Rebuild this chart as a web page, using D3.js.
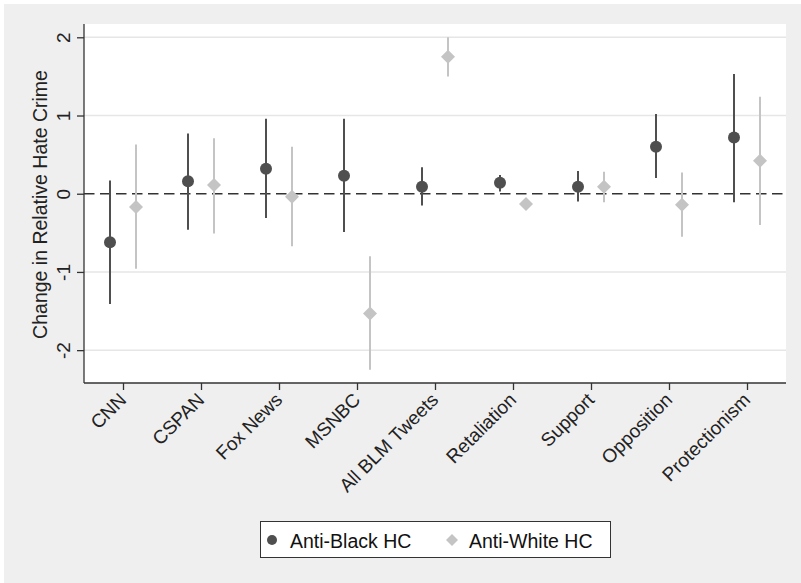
<!DOCTYPE html>
<html><head><meta charset="utf-8">
<script src="https://cdn.jsdelivr.net/npm/d3@7"></script>
<style>
html,body{margin:0;padding:0;background:#fff;}
svg{display:block;font-family:"Liberation Sans",Arial,sans-serif;}
</style></head>
<body>
<svg id="chart" width="801" height="583"></svg>
<script>
const categories = ["CNN","CSPAN","Fox News","MSNBC","All BLM Tweets","Retaliation","Support","Opposition","Protectionism"];
const blackEst = [-0.62, 0.16, 0.32, 0.23, 0.09, 0.14, 0.09, 0.60, 0.72];
const blackLo  = [-1.41,-0.46,-0.31,-0.49,-0.15, 0.03,-0.10, 0.20,-0.11];
const blackHi  = [ 0.17, 0.77, 0.96, 0.96, 0.34, 0.24, 0.29, 1.02, 1.53];
const whiteEst = [-0.17, 0.11,-0.04,-1.53, 1.75,-0.13, 0.09,-0.14, 0.42];
const whiteLo  = [-0.96,-0.51,-0.67,-2.25, 1.50,-0.20,-0.11,-0.55,-0.40];
const whiteHi  = [ 0.63, 0.71, 0.60,-0.80, 2.00,-0.06, 0.28, 0.27, 1.24];
const yTicks = [-2,-1,0,1,2];
const yTickLabels = ["-2","-1","0","1","2"];
const seriesNames = ["Anti-Black HC","Anti-White HC"];

const svg = d3.select("#chart");
const W = 801, H = 583;
const plot = {left:84, right:786, top:24, bottom:383};
const darkCol = "#4f4f4f", lightCol = "#c4c4c4";

svg.append("rect").attr("x",4).attr("y",4).attr("width",W-4).attr("height",H-4).attr("fill","#efefef");
svg.append("rect").attr("x",plot.left).attr("y",plot.top).attr("width",plot.right-plot.left).attr("height",plot.bottom-plot.top).attr("fill","#fff");

const x = d3.scalePoint().domain(categories).range([plot.left, plot.right]).padding(0.5);
const y = d3.scaleLinear().domain([-2.42, 2.17]).range([plot.bottom, plot.top]);

// gridlines
svg.append("g").selectAll("line").data(yTicks.filter(d=>d!==0)).join("line")
  .attr("x1",plot.left).attr("x2",plot.right)
  .attr("y1",d=>y(d)).attr("y2",d=>y(d))
  .attr("stroke","#e6e6e6").attr("stroke-width",1.5);

// zero dashed line
svg.append("line").attr("x1",plot.left).attr("x2",plot.right)
  .attr("y1",y(0)).attr("y2",y(0))
  .attr("stroke","#333").attr("stroke-width",1.4).attr("stroke-dasharray","10.5,5.5");

// y axis
const yAxis = svg.append("g").attr("transform",`translate(${plot.left},0)`)
  .call(d3.axisLeft(y).tickValues(yTicks).tickSize(7)
    .tickFormat((d,i)=>yTickLabels[i]).tickSizeOuter(0));
yAxis.select(".domain").attr("stroke","#333").attr("stroke-width",1.3).attr("d",`M0,${plot.top}V${plot.bottom}`);
yAxis.selectAll(".tick line").attr("stroke","#333").attr("stroke-width",1.3);
yAxis.selectAll(".tick text")
  .attr("x",null).attr("dy",null)
  .attr("transform","translate(-14,0) rotate(-90)")
  .attr("text-anchor","middle").attr("y",0)
  .attr("font-size",19).attr("fill","#222").attr("font-family","Liberation Sans, Arial, sans-serif");

// x axis
const xAxis = svg.append("g").attr("transform",`translate(0,${plot.bottom})`)
  .call(d3.axisBottom(x).tickSize(7).tickSizeOuter(0));
xAxis.select(".domain").attr("stroke","#333").attr("stroke-width",1.3).attr("d",`M${plot.left},0H${plot.right}`);
xAxis.selectAll(".tick line").attr("stroke","#333").attr("stroke-width",1.3);
xAxis.selectAll(".tick text")
  .attr("y",null).attr("dy",null)
  .attr("transform","translate(4,18) rotate(-45)")
  .attr("text-anchor","end")
  .attr("font-size",19).attr("fill","#222").attr("font-family","Liberation Sans, Arial, sans-serif");

// y title
svg.append("text").attr("transform",`translate(47,${(67+342)/2}) rotate(-90)`)
  .attr("text-anchor","middle").attr("font-size",19.5).attr("fill","#222")
  .text("Change in Relative Hate Crime");

const off = 13;
const idx = d3.range(categories.length);
// error bars
svg.append("g").selectAll("line").data(idx).join("line")
  .attr("x1",i=>x(categories[i])+off).attr("x2",i=>x(categories[i])+off)
  .attr("y1",i=>y(whiteLo[i])).attr("y2",i=>y(whiteHi[i]))
  .attr("stroke",lightCol).attr("stroke-width",2);
svg.append("g").selectAll("line").data(idx).join("line")
  .attr("x1",i=>x(categories[i])-off).attr("x2",i=>x(categories[i])-off)
  .attr("y1",i=>y(blackLo[i])).attr("y2",i=>y(blackHi[i]))
  .attr("stroke",darkCol).attr("stroke-width",2);

const diamond = (cx,cy,r)=>`M${cx},${cy-r}L${cx+r},${cy}L${cx},${cy+r}L${cx-r},${cy}Z`;
svg.append("g").selectAll("path").data(idx).join("path")
  .attr("d",i=>diamond(x(categories[i])+off, y(whiteEst[i]), 7))
  .attr("fill",lightCol);
svg.append("g").selectAll("circle").data(idx).join("circle")
  .attr("cx",i=>x(categories[i])-off).attr("cy",i=>y(blackEst[i])).attr("r",6)
  .attr("fill",darkCol);

// legend
const lg = svg.append("g");
lg.append("rect").attr("x",260.5).attr("y",521.5).attr("width",350).attr("height",36)
  .attr("fill","#fff").attr("stroke","#333").attr("stroke-width",1);
lg.append("circle").attr("cx",272).attr("cy",540).attr("r",5).attr("fill",darkCol);
lg.append("path").attr("d",diamond(452,540,6)).attr("fill",lightCol);
lg.append("text").attr("x",290).attr("y",547.5).attr("font-size",19.5).attr("fill","#111").text(seriesNames[0]);
lg.append("text").attr("x",469).attr("y",547.5).attr("font-size",19.5).attr("fill","#111").text(seriesNames[1]);
</script>
</body></html>
